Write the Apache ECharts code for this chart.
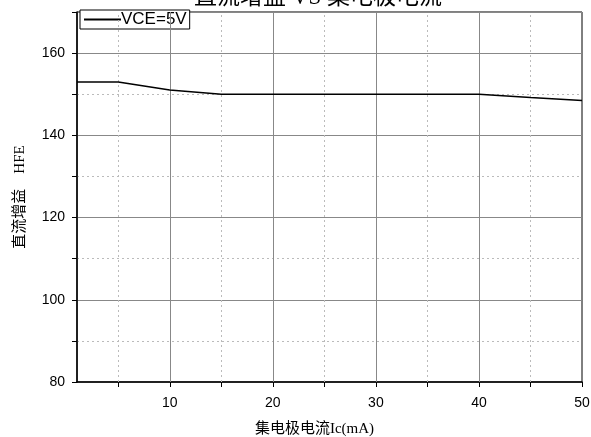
<!DOCTYPE html>
<html><head><meta charset="utf-8">
<script src="https://cdn.jsdelivr.net/npm/echarts@6/dist/echarts.min.js"></script>
<style>html,body{margin:0;padding:0;background:#fff}#c{width:591px;height:437px}</style>
</head><body><div id="c"></div>
<script>
const seriesName = 'VCE=5V';
const icValues = [1, 5, 10, 15, 20, 25, 30, 35, 40, 45, 50];
const hfeValues = [153, 153, 151, 150, 150, 150, 150, 150, 150, 149.2, 148.5];
const xLabelValues = [10, 20, 30, 40, 50];
const xTickValues = [5, 10, 15, 20, 25, 30, 35, 40, 45, 50];
const xMajorGrid = [10, 20, 30, 40];
const xMinorGrid = [5, 15, 25, 35, 45];

const chart = echarts.init(document.getElementById('c'));
const serifCJK = '"Liberation Serif", "Noto Sans CJK SC", serif';
chart.setOption({
  animation: false,
  grid: { left: 77, right: 9, top: 12, bottom: 55, show: true, borderColor: '#000', borderWidth: 1,
    containLabel: false, outerBoundsMode: 'none' },
  graphic: [{
    type: 'text', z: 100,
    style: { text: '直流增益 VS 集电极电流', x: 318, y: 9, textAlign: 'center', textVerticalAlign: 'bottom', font: '23px ' + serifCJK, fill: '#000' }
  }],
  legend: {
    left: 80, top: 10, orient: 'vertical', padding: [1, 3, 1, 4], itemGap: 0,
    borderColor: '#000', borderWidth: 1, backgroundColor: '#fff',
    itemWidth: 37, itemHeight: 2, icon: 'rect',
    textStyle: { fontFamily: 'Liberation Sans', fontSize: 17, color: '#000', padding: [0, 0, 0, -5] },
    data: [seriesName]
  },
  xAxis: {
    type: 'value', min: 1, max: 50,
    name: '集电极电流Ic(mA)', nameLocation: 'middle', nameGap: 40,
    nameTextStyle: { fontFamily: serifCJK, fontSize: 15, color: '#000', padding: [0, 30, 0, 0] },
    axisLine: { lineStyle: { color: '#000', width: 1.5 } },
    axisTick: { show: true, customValues: xTickValues, length: 5, lineStyle: { color: '#000' } },
    axisLabel: { customValues: xLabelValues, fontFamily: 'Liberation Sans', fontSize: 14, color: '#000', margin: 14 },
    splitLine: { show: false }
  },
  yAxis: {
    type: 'value', min: 80, max: 170, interval: 20,
    name: '直流增益    HFE', nameLocation: 'middle', nameGap: 49, nameRotate: 90,
    nameTextStyle: { fontFamily: serifCJK, fontSize: 15, color: '#000' },
    axisLine: { show: true, lineStyle: { color: '#000', width: 1.5 } },
    axisTick: { show: true, length: 5, lineStyle: { color: '#000' } },
    minorTick: { show: true, splitNumber: 2, length: 5, lineStyle: { color: '#000' } },
    axisLabel: { fontFamily: 'Liberation Sans', fontSize: 14, color: '#000', margin: 12,
      formatter: v => (v > 160 ? '' : v) },
    splitLine: { show: true, lineStyle: { color: '#888', width: 1 } },
    minorSplitLine: { show: true, lineStyle: { color: '#bbb', type: [2, 3], width: 1 } }
  },
  series: [
    {
      name: seriesName, type: 'line', showSymbol: false, symbol: 'none',
      data: icValues.map((x, i) => [x, hfeValues[i]]),
      lineStyle: { color: '#000', width: 1.5 }, itemStyle: { color: '#000' }, z: 5,
      markLine: {
        silent: true, symbol: 'none', label: { show: false }, animation: false,
        data: xMajorGrid.map(v => ({ xAxis: v, lineStyle: { color: '#888', width: 1, type: 'solid' } }))
          .concat(xMinorGrid.map(v => ({ xAxis: v, lineStyle: { color: '#bbb', width: 1, type: [2, 3] } })))
      }
    }
  ]
});
</script></body></html>
